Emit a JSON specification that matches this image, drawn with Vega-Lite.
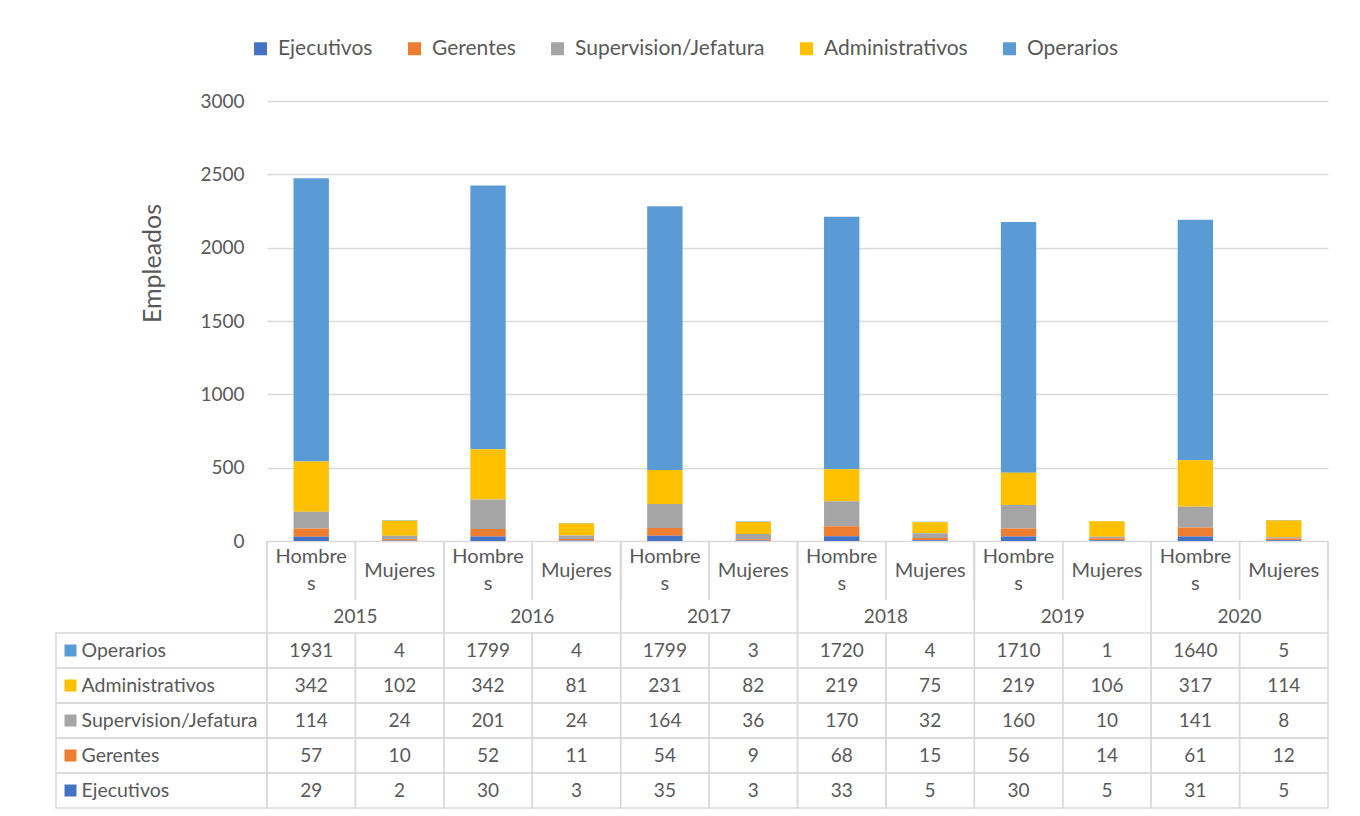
{
  "$schema": "https://vega.github.io/schema/vega-lite/v6.json",
  "padding": {"left": 55, "top": 10, "right": 33, "bottom": 8},
  "background": "white",
  "bounds": "flush",
  "spacing": 0,
  "columns": 2,
  "config": {
    "view": {"stroke": null},
    "font": "Lato",
    "text": {"font": "Lato"},
    "axis": {"labelFont": "Lato", "titleFont": "Lato"},
    "legend": {"labelFont": "Lato"}
  },
  "resolve": {"scale": {"x": "independent", "xOffset": "independent", "y": "independent"}},
  "datasets": {
    "emp": [
      {"year": "2015", "sex": "Hombres", "category": "Operarios", "value": 1931},
      {"year": "2015", "sex": "Mujeres", "category": "Operarios", "value": 4},
      {"year": "2016", "sex": "Hombres", "category": "Operarios", "value": 1799},
      {"year": "2016", "sex": "Mujeres", "category": "Operarios", "value": 4},
      {"year": "2017", "sex": "Hombres", "category": "Operarios", "value": 1799},
      {"year": "2017", "sex": "Mujeres", "category": "Operarios", "value": 3},
      {"year": "2018", "sex": "Hombres", "category": "Operarios", "value": 1720},
      {"year": "2018", "sex": "Mujeres", "category": "Operarios", "value": 4},
      {"year": "2019", "sex": "Hombres", "category": "Operarios", "value": 1710},
      {"year": "2019", "sex": "Mujeres", "category": "Operarios", "value": 1},
      {"year": "2020", "sex": "Hombres", "category": "Operarios", "value": 1640},
      {"year": "2020", "sex": "Mujeres", "category": "Operarios", "value": 5},
      {"year": "2015", "sex": "Hombres", "category": "Administrativos", "value": 342},
      {"year": "2015", "sex": "Mujeres", "category": "Administrativos", "value": 102},
      {"year": "2016", "sex": "Hombres", "category": "Administrativos", "value": 342},
      {"year": "2016", "sex": "Mujeres", "category": "Administrativos", "value": 81},
      {"year": "2017", "sex": "Hombres", "category": "Administrativos", "value": 231},
      {"year": "2017", "sex": "Mujeres", "category": "Administrativos", "value": 82},
      {"year": "2018", "sex": "Hombres", "category": "Administrativos", "value": 219},
      {"year": "2018", "sex": "Mujeres", "category": "Administrativos", "value": 75},
      {"year": "2019", "sex": "Hombres", "category": "Administrativos", "value": 219},
      {"year": "2019", "sex": "Mujeres", "category": "Administrativos", "value": 106},
      {"year": "2020", "sex": "Hombres", "category": "Administrativos", "value": 317},
      {"year": "2020", "sex": "Mujeres", "category": "Administrativos", "value": 114},
      {"year": "2015", "sex": "Hombres", "category": "Supervision/Jefatura", "value": 114},
      {"year": "2015", "sex": "Mujeres", "category": "Supervision/Jefatura", "value": 24},
      {"year": "2016", "sex": "Hombres", "category": "Supervision/Jefatura", "value": 201},
      {"year": "2016", "sex": "Mujeres", "category": "Supervision/Jefatura", "value": 24},
      {"year": "2017", "sex": "Hombres", "category": "Supervision/Jefatura", "value": 164},
      {"year": "2017", "sex": "Mujeres", "category": "Supervision/Jefatura", "value": 36},
      {"year": "2018", "sex": "Hombres", "category": "Supervision/Jefatura", "value": 170},
      {"year": "2018", "sex": "Mujeres", "category": "Supervision/Jefatura", "value": 32},
      {"year": "2019", "sex": "Hombres", "category": "Supervision/Jefatura", "value": 160},
      {"year": "2019", "sex": "Mujeres", "category": "Supervision/Jefatura", "value": 10},
      {"year": "2020", "sex": "Hombres", "category": "Supervision/Jefatura", "value": 141},
      {"year": "2020", "sex": "Mujeres", "category": "Supervision/Jefatura", "value": 8},
      {"year": "2015", "sex": "Hombres", "category": "Gerentes", "value": 57},
      {"year": "2015", "sex": "Mujeres", "category": "Gerentes", "value": 10},
      {"year": "2016", "sex": "Hombres", "category": "Gerentes", "value": 52},
      {"year": "2016", "sex": "Mujeres", "category": "Gerentes", "value": 11},
      {"year": "2017", "sex": "Hombres", "category": "Gerentes", "value": 54},
      {"year": "2017", "sex": "Mujeres", "category": "Gerentes", "value": 9},
      {"year": "2018", "sex": "Hombres", "category": "Gerentes", "value": 68},
      {"year": "2018", "sex": "Mujeres", "category": "Gerentes", "value": 15},
      {"year": "2019", "sex": "Hombres", "category": "Gerentes", "value": 56},
      {"year": "2019", "sex": "Mujeres", "category": "Gerentes", "value": 14},
      {"year": "2020", "sex": "Hombres", "category": "Gerentes", "value": 61},
      {"year": "2020", "sex": "Mujeres", "category": "Gerentes", "value": 12},
      {"year": "2015", "sex": "Hombres", "category": "Ejecutivos", "value": 29},
      {"year": "2015", "sex": "Mujeres", "category": "Ejecutivos", "value": 2},
      {"year": "2016", "sex": "Hombres", "category": "Ejecutivos", "value": 30},
      {"year": "2016", "sex": "Mujeres", "category": "Ejecutivos", "value": 3},
      {"year": "2017", "sex": "Hombres", "category": "Ejecutivos", "value": 35},
      {"year": "2017", "sex": "Mujeres", "category": "Ejecutivos", "value": 3},
      {"year": "2018", "sex": "Hombres", "category": "Ejecutivos", "value": 33},
      {"year": "2018", "sex": "Mujeres", "category": "Ejecutivos", "value": 5},
      {"year": "2019", "sex": "Hombres", "category": "Ejecutivos", "value": 30},
      {"year": "2019", "sex": "Mujeres", "category": "Ejecutivos", "value": 5},
      {"year": "2020", "sex": "Hombres", "category": "Ejecutivos", "value": 31},
      {"year": "2020", "sex": "Mujeres", "category": "Ejecutivos", "value": 5}
    ]
  },
  "concat": [
    {"width": 211, "height": 91, "data": {"values": [{}]}, "mark": {"type": "text", "text": ""}, "encoding": {}},
    {"width": 1061, "height": 91, "data": {"values": [{}]}, "mark": {"type": "text", "text": ""}, "encoding": {}},
    {"width": 211, "height": 440, "data": {"values": [{}]}, "mark": {"type": "text", "text": ""}, "encoding": {}},
    {
      "width": 1061,
      "height": 440,
      "data": {"name": "emp"},
      "transform": [
        {"calculate": "indexof(['Ejecutivos','Gerentes','Supervision/Jefatura','Administrativos','Operarios'], datum.category)", "as": "ord"}
      ],
      "mark": {"type": "bar"},
      "encoding": {
        "x": {"field": "year", "type": "ordinal", "scale": {"type": "band", "paddingInner": 0, "paddingOuter": 0}, "axis": null},
        "xOffset": {"field": "sex", "type": "nominal", "sort": ["Hombres", "Mujeres"], "scale": {"type": "band", "paddingInner": 0.6, "paddingOuter": 0.3}},
        "y": {
          "field": "value", "type": "quantitative", "stack": "zero",
          "scale": {"domain": [0, 3000], "nice": false},
          "axis": {
            "title": "Empleados", "values": [0, 500, 1000, 1500, 2000, 2500, 3000], "format": "d",
            "grid": true, "gridColor": "#d9d9d9", "gridWidth": 1.5,
            "domain": false, "ticks": false, "labelPadding": 23,
            "labelFontSize": 19, "labelColor": "#595959",
            "titleFontSize": 25, "titleFontWeight": "normal", "titleColor": "#595959", "titlePadding": 34,
            "titleY": 162
          }
        },
        "color": {
          "field": "category", "type": "nominal",
          "scale": {
            "domain": ["Ejecutivos", "Gerentes", "Supervision/Jefatura", "Administrativos", "Operarios"],
            "range": ["#4472C4", "#ED7D31", "#A5A5A5", "#FFC000", "#5B9BD5"]
          },
          "legend": {
            "orient": "none", "legendX": 194, "legendY": 28, "direction": "horizontal", "columns": 5,
            "title": null, "symbolType": "square", "symbolSize": 169, "symbolStrokeWidth": 0,
            "labelFontSize": 21, "labelColor": "#595959", "labelLimit": 400, "columnPadding": 31, "labelOffset": 7
          }
        },
        "order": {"field": "ord", "type": "quantitative"}
      }
    },
    {"width": 211, "height": 59, "data": {"values": [{}]}, "mark": {"type": "text", "text": ""}, "encoding": {}},
    {
      "width": 1061,
      "height": 59,
      "data": {"name": "emp"},
      "transform": [
        {"filter": "datum.category === 'Operarios'"},
        {"calculate": "datum.sex === 'Hombres' ? 'Hombre|s' : datum.sex", "as": "sexLabel"}
      ],
      "layer": [
        {"mark": {"type": "rule", "color": "#d9d9d9", "strokeWidth": 1.5}, "encoding": {"x": {"field": "year", "type": "ordinal", "bandPosition": 0, "scale": {"type": "band", "paddingInner": 0, "paddingOuter": 0}, "axis": null}}},
        {"mark": {"type": "rule", "color": "#d9d9d9", "strokeWidth": 1.5}, "encoding": {"x": {"field": "year", "type": "ordinal", "bandPosition": 1, "axis": null}}},
        {"mark": {"type": "rule", "color": "#d9d9d9", "strokeWidth": 1.5}, "encoding": {"x": {"field": "year", "type": "ordinal", "bandPosition": 0.5, "axis": null}}},
        {
          "transform": [{"filter": "datum.sex === 'Hombres'"}],
          "mark": {"type": "text", "fontSize": 20, "color": "#595959", "lineBreak": "|", "lineHeight": 27, "baseline": "middle", "dy": -13.5},
          "encoding": {
            "x": {"field": "year", "type": "ordinal", "axis": null},
            "xOffset": {"field": "sex", "type": "nominal", "sort": ["Hombres", "Mujeres"], "scale": {"type": "band", "domain": ["Hombres", "Mujeres"], "paddingInner": 0, "paddingOuter": 0}},
            "text": {"field": "sexLabel"}
          }
        },
        {
          "transform": [{"filter": "datum.sex === 'Mujeres'"}],
          "mark": {"type": "text", "fontSize": 20, "color": "#595959", "baseline": "middle"},
          "encoding": {
            "x": {"field": "year", "type": "ordinal", "axis": null},
            "xOffset": {"field": "sex", "type": "nominal", "sort": ["Hombres", "Mujeres"]},
            "text": {"field": "sexLabel"}
          }
        }
      ]
    },
    {"width": 211, "height": 33, "data": {"values": [{}]}, "mark": {"type": "text", "text": ""}, "encoding": {}},
    {
      "width": 1061,
      "height": 33,
      "data": {"name": "emp"},
      "transform": [
        {"filter": "datum.category === 'Operarios' && datum.sex === 'Hombres'"}
      ],
      "layer": [
        {"mark": {"type": "rule", "color": "#d9d9d9", "strokeWidth": 1.5}, "encoding": {"x": {"field": "year", "type": "ordinal", "bandPosition": 0, "scale": {"type": "band", "paddingInner": 0, "paddingOuter": 0}, "axis": null}}},
        {"mark": {"type": "rule", "color": "#d9d9d9", "strokeWidth": 1.5}, "encoding": {"x": {"field": "year", "type": "ordinal", "bandPosition": 1, "axis": null}}},
        {
          "mark": {"type": "text", "fontSize": 19, "color": "#595959"},
          "encoding": {
            "x": {"field": "year", "type": "ordinal", "axis": null},
            "text": {"field": "year"}
          }
        }
      ]
    },
    {
      "width": 211,
      "height": 175,
      "data": {"name": "emp"},
      "transform": [
        {"filter": "datum.year === '2015' && datum.sex === 'Hombres'"}
      ],
      "mark": {"type": "rect", "fillOpacity": 0, "stroke": "#d9d9d9", "strokeWidth": 1.5},
      "encoding": {
        "y": {
          "field": "category", "type": "nominal",
          "sort": ["Operarios", "Administrativos", "Supervision/Jefatura", "Gerentes", "Ejecutivos"],
          "scale": {"type": "band", "paddingInner": 0, "paddingOuter": 0},
          "axis": {
            "title": null, "domain": false, "grid": false,
            "ticks": true, "tickSize": 12, "tickWidth": 12,
            "tickColor": {
              "condition": [
                {"test": "datum.value === 'Operarios'", "value": "#5B9BD5"},
                {"test": "datum.value === 'Administrativos'", "value": "#FFC000"},
                {"test": "datum.value === 'Supervision/Jefatura'", "value": "#A5A5A5"},
                {"test": "datum.value === 'Gerentes'", "value": "#ED7D31"}
              ],
              "value": "#4472C4"
            },
            "offset": -20, "labelAlign": "left", "labelPadding": -17, "labelLimit": 300,
            "labelFontSize": 19.5, "labelColor": "#595959", "labelBaseline": "middle"
          }
        }
      }
    },
    {
      "width": 1061,
      "height": 175,
      "data": {"name": "emp"},
      "layer": [
        {
          "mark": {"type": "bar", "fillOpacity": 0, "stroke": "#d9d9d9", "strokeWidth": 1.5},
          "encoding": {
            "x": {"field": "year", "type": "ordinal", "scale": {"type": "band", "paddingInner": 0, "paddingOuter": 0}, "axis": null},
            "xOffset": {"field": "sex", "type": "nominal", "sort": ["Hombres", "Mujeres"], "scale": {"type": "band", "paddingInner": 0, "paddingOuter": 0}},
            "y": {
              "field": "category", "type": "nominal",
              "sort": ["Operarios", "Administrativos", "Supervision/Jefatura", "Gerentes", "Ejecutivos"],
              "scale": {"type": "band", "paddingInner": 0, "paddingOuter": 0},
              "axis": null
            }
          }
        },
        {
          "mark": {"type": "text", "fontSize": 19, "color": "#595959"},
          "encoding": {
            "x": {"field": "year", "type": "ordinal", "axis": null},
            "xOffset": {"field": "sex", "type": "nominal", "sort": ["Hombres", "Mujeres"]},
            "y": {"field": "category", "type": "nominal", "sort": ["Operarios", "Administrativos", "Supervision/Jefatura", "Gerentes", "Ejecutivos"], "axis": null},
            "text": {"field": "value", "type": "quantitative"}
          }
        }
      ]
    }
  ]
}
